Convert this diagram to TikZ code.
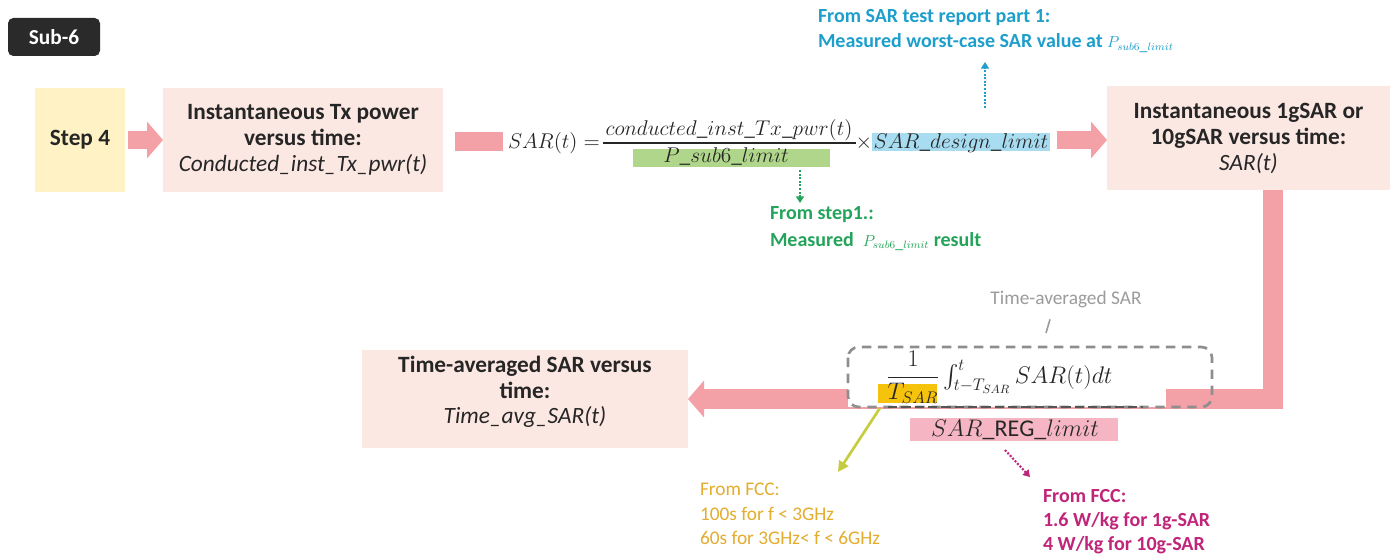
\RequirePackage{fix-cm}
\documentclass[tikz,border=0pt]{standalone}
\usepackage{exscale}
\usepackage{fontspec}
\setmainfont{Carlito}
\usetikzlibrary{arrows.meta,calc}
\definecolor{pinkA}{HTML}{F3A0A7}
\definecolor{boxP}{HTML}{FCE8E3}
\definecolor{boxY}{HTML}{FFF3C6}
\definecolor{hlG}{HTML}{AFD68A}
\definecolor{hlB}{HTML}{A7DCF1}
\definecolor{hlY}{HTML}{F5C20C}
\definecolor{hlP}{HTML}{F5B5C3}
\definecolor{txB}{HTML}{1E9FCB}
\definecolor{txG}{HTML}{23A45A}
\definecolor{txO}{HTML}{E3AD2E}
\definecolor{txM}{HTML}{C1257A}
\definecolor{arY}{HTML}{C7CB3E}
\definecolor{grayT}{HTML}{9B9B9B}
\definecolor{dashG}{HTML}{8E8E8E}
\definecolor{darkbox}{HTML}{2A2A2A}
\definecolor{txt}{HTML}{262626}
\tikzset{
  base/.style={inner sep=0pt, outer sep=0pt},
  pbox/.style={base, fill=boxP, align=center, text=txt, font=\fontsize{17.5}{19.5}\selectfont},
  blk/.style={draw=pinkA, line width=13.5pt, -{Triangle[width=27pt,length=12pt]}},
  eq/.style={base, text=txt, font=\fontsize{16}{19}\selectfont},
  eqb/.style={base, text=txt, font=\fontsize{18}{22}\selectfont},
  note/.style={base, align=left, anchor=west, font=\bfseries\fontsize{15}{18.75}\selectfont},
  dotarrow/.style={line width=1.6pt, dash pattern=on 1.5pt off 1.2pt, -{Triangle[width=6pt,length=5pt]}},
}
\begin{document}
\begin{tikzpicture}[x=0.75pt,y=-0.75pt]
\useasboundingbox (0,0) rectangle (1400,560);
\fill[white] (0,0) rectangle (1400,560);

% ---- top row boxes
\node[base, fill=darkbox, rounded corners=4pt, minimum width=69pt, minimum height=28.5pt,
      text=white, font=\bfseries\fontsize{16}{18}\selectfont] (sub) at (54,37) {Sub-6};
\node[pbox, fill=boxY, minimum width=67.5pt, minimum height=78pt] (step) at (80,140) {\textbf{Step 4}};
\node[pbox, minimum width=210pt, minimum height=78pt] (pwr) at (303,140)
  {\textbf{Instantaneous Tx power}\\\textbf{versus time:}\\\textit{Conducted\_inst\_Tx\_pwr(t)}};
\node[pbox, minimum width=212.25pt, minimum height=78pt] (sar) at (1248.5,138)
  {\textbf{Instantaneous 1gSAR or}\\\textbf{10gSAR versus time:}\\\textit{SAR(t)}};

% ---- bottom box
\node[pbox, minimum width=244.5pt, minimum height=73.5pt] (tavg) at (525,399) {};
\node[base, align=center, text=txt, font=\fontsize{17.5}{19}\selectfont] (tavgtxt) at (525,392)
  {\textbf{Time-averaged SAR versus}\\\textbf{time:}\\\textit{Time\_avg\_SAR(t)}};

% ---- pink arrows
\draw[blk] ($(step.east)+(3,0)$) -- (pwr.west);
\coordinate (barS) at (455,141.5);
\coordinate (barE) at (503,141.5);
\draw[pinkA, line width=14pt] (barS) -- (barE);
\coordinate (arS) at (1057,140);
\draw[blk] (arS) -- (arS -| sar.west);
\draw[blk, line width=15pt, line join=miter] ($(sar.south)+(24,0)$) |- (tavg.east);

% ---- top equation
\node[eq, anchor=base west] (eqL) at (508,148) {$SAR(t) =$};
\node[eq, anchor=base] (num) at (729,136) {$conducted\_inst\_Tx\_pwr(t)$};
\coordinate (fbL) at (603,143);
\coordinate (fbR) at (856,143);
\draw[txt, line width=0.8pt] (fbL) -- (fbR);
\fill[hlG] (633,149) rectangle (830,167);
\node[eq, anchor=base] (den) at (726,162) {$P\_sub6\_limit$};
\node[eq, anchor=base] (times) at (864,148) {$\times$};
\fill[hlB] (872,133) rectangle (1050,151);
\node[eq, anchor=base] (sdl) at (961,148) {$SAR\_design\_limit$};

% ---- notes top
\node[note, text=txB] (blue) at (818,31)
  {From SAR test report part 1:\\Measured worst-case SAR value at {\mdseries\fontsize{12}{14}\selectfont$P_{sub6\_limit}$}};
\coordinate (bA) at (985,108);
\coordinate (bB) at (985,62);
\draw[txB, dotarrow] (bA) -- (bB);

\node[note, text=txG, font=\bfseries\fontsize{15}{20}\selectfont] (green) at (770,228.5)
  {From step1.:\\Measured \ {\mdseries\fontsize{12}{14}\selectfont$P_{sub6\_limit}$} result};
\coordinate (gA) at (800,170);
\coordinate (gB) at (800,203);
\draw[txG, dotarrow] (gA) -- (gB);

% ---- time-averaged formula
\fill[white] (848,349) rectangle (1166,406.5);
\fill[hlY] (878,384) rectangle (937,403);
\node[eqb, anchor=base] (frac) at (913,383) {$\displaystyle\frac{1}{T_{SAR}}$};
\node[eqb, anchor=base west] (intg) at (943,383) {$\int_{t-T_{SAR}}^{t} SAR(t)dt$};
\draw[dashG, line width=2pt, dash pattern=on 7pt off 5pt, rounded corners=8pt] (848,347) rectangle (1212,407);
\draw[dashG!60!black, line width=2pt, dash pattern=on 7pt off 3pt] (888,407) -- (1143,407);
\node[base, text=grayT, font=\fontsize{14.5}{17}\selectfont] (tlab) at (1066,299) {Time-averaged SAR};
\coordinate (tk) at (1046,333);
\draw[grayT, line width=1.2pt] ($(tlab.south)+(-16,12)$) -- (tk);

\fill[hlP] (910,418) rectangle (1118,441);
\node[eqb] (reg) at (1015,430) {$SAR\_\mathrm{REG}\_limit$};

% ---- bottom notes
\node[base, align=left, anchor=west, text=txO, font=\fontsize{14.5}{18.4}\selectfont] (fccA) at (700,514)
  {From FCC:\\100s for f < 3GHz\\60s for 3GHz< f < 6GHz};
\coordinate (yA) at (880,408);
\coordinate (yB) at (838,472);
\draw[arY, line width=2pt, -{Triangle[width=8pt,length=8pt]}] (yA) -- (yB);

\node[note, text=txM, font=\bfseries\fontsize{15}{18}\selectfont] (fccB) at (1043,522)
  {From FCC:\\1.6 W/kg for 1g-SAR\\4 W/kg for 10g-SAR};
\coordinate (mA) at (1005,450);
\coordinate (mB) at (1030,477);
\draw[txM, dotarrow] (mA) -- (mB);
\end{tikzpicture}
\end{document}
